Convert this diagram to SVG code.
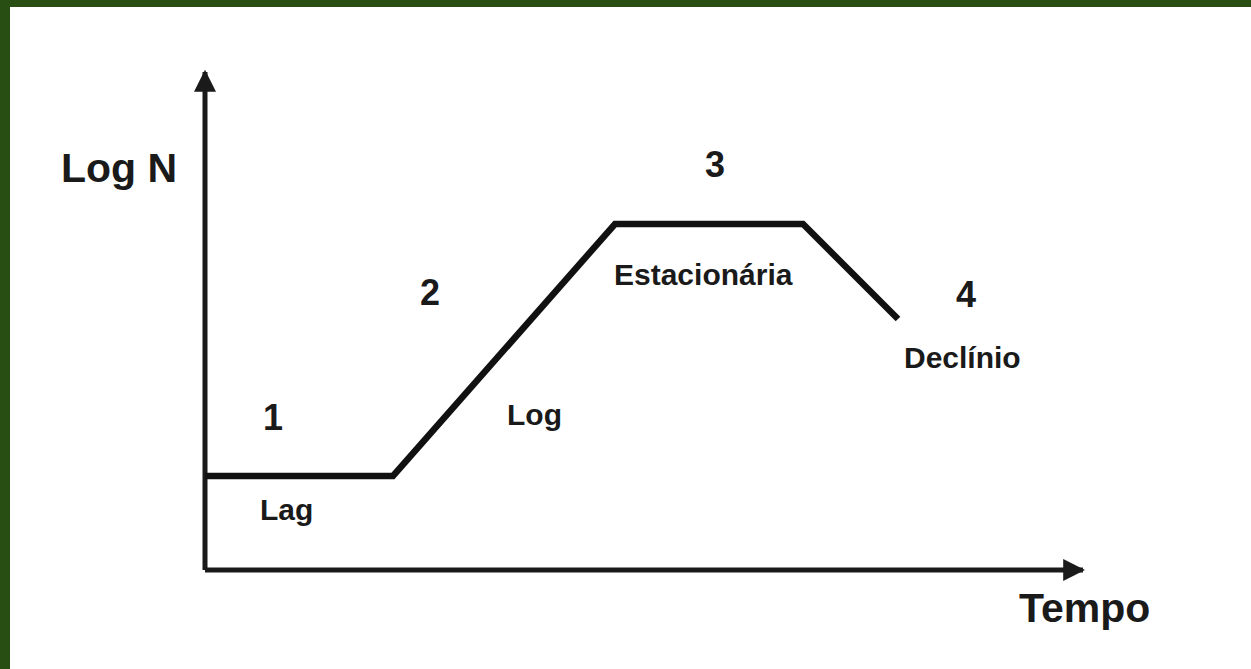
<svg xmlns="http://www.w3.org/2000/svg" width="1251" height="669" viewBox="0 0 1251 669">
  <style>
    .lbl { font-family: "Liberation Sans", Arial, sans-serif; font-weight: bold; fill: #1a1a1a; }
    .big { font-size: 41px; }
    .num { font-size: 36px; text-anchor: middle; }
    .sm { font-size: 30px; }
    .axis { stroke: #1a1a1a; stroke-width: 5; fill: none; }
    .curve { stroke: #111; stroke-width: 6.5; fill: none; stroke-linejoin: miter; }
  </style>
  <defs>
    <marker id="arrow" viewBox="0 0 10 10" refX="9" refY="5" markerWidth="4.4" markerHeight="4.4" markerUnits="strokeWidth" orient="auto">
      <path d="M0,0 L10,5 L0,10 Z" fill="#1a1a1a"/>
    </marker>
  </defs>
  <rect x="0" y="0" width="1251" height="669" fill="#ffffff"/>
  <rect x="0" y="0" width="1251" height="7" fill="#284e13"/>
  <rect x="0" y="0" width="10" height="669" fill="#284e13"/>

  <g id="connectors">
    <path class="axis" d="M205,570 L205,72" marker-end="url(#arrow)"/>
    <path class="axis" d="M205,570 L1083,570" marker-end="url(#arrow)"/>
  </g>

  <g id="growth-curve">
    <path class="curve" d="M205,476 L393,476 L615,224 L803,224 L898,319"/>
  </g>

  <g id="y-label"><text class="lbl big" x="61" y="182">Log N</text></g>
  <g id="x-label"><text class="lbl big" x="1019" y="622">Tempo</text></g>

  <g id="phase-1">
    <text class="lbl num" x="273" y="430">1</text>
    <text class="lbl sm" x="260" y="520">Lag</text>
  </g>
  <g id="phase-2">
    <text class="lbl num" x="430" y="305">2</text>
    <text class="lbl sm" x="507" y="425">Log</text>
  </g>
  <g id="phase-3">
    <text class="lbl num" x="715" y="177">3</text>
    <text class="lbl sm" x="614" y="285">Estacionária</text>
  </g>
  <g id="phase-4">
    <text class="lbl num" x="966" y="307">4</text>
    <text class="lbl sm" x="904" y="368">Declínio</text>
  </g>
</svg>
